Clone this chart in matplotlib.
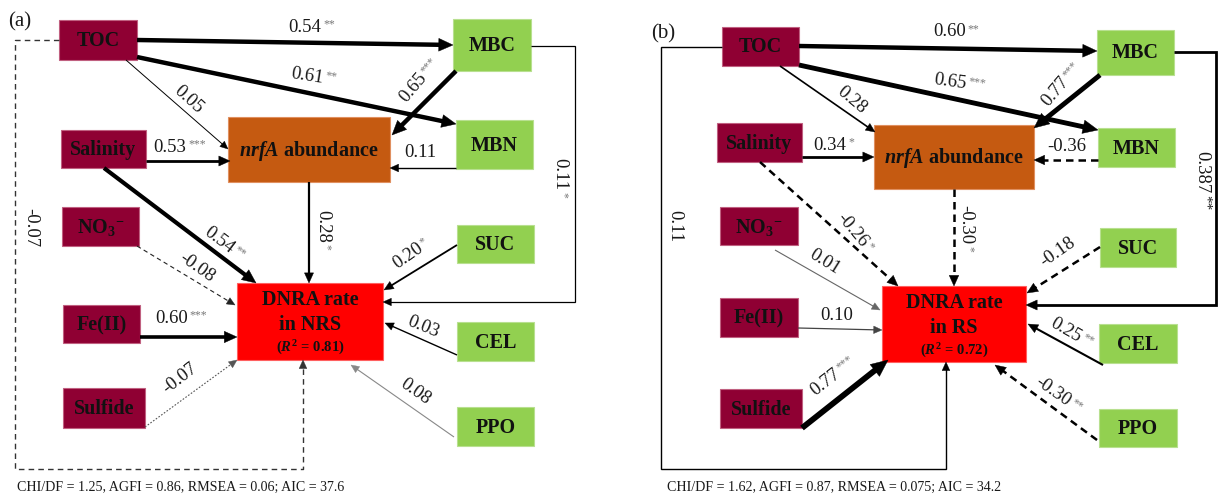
import numpy as np
import matplotlib.pyplot as plt
from matplotlib.patches import Rectangle, Polygon

plt.rcParams['font.family'] = 'Liberation Serif'
plt.rcParams['mathtext.fontset'] = 'custom'
plt.rcParams['mathtext.rm'] = 'Liberation Serif:bold'
plt.rcParams['mathtext.bf'] = 'Liberation Serif:bold'
plt.rcParams['mathtext.it'] = 'Liberation Serif:bold:italic'

# Path coefficients (source, target, coefficient text, significance)
paths_a = [
    ('TOC', 'MBC', '0.54', '**'),
    ('TOC', 'MBN', '0.61', '**'),
    ('TOC', 'nrfA', '0.05', ''),
    ('MBC', 'nrfA', '0.65', '***'),
    ('MBN', 'nrfA', '0.11', ''),
    ('Salinity', 'nrfA', '0.53', '***'),
    ('Salinity', 'DNRA', '0.54', '**'),
    ('NO3', 'DNRA', '-0.08', ''),
    ('Fe', 'DNRA', '0.60', '***'),
    ('Sulfide', 'DNRA', '-0.07', ''),
    ('nrfA', 'DNRA', '0.28', '*'),
    ('SUC', 'DNRA', '0.20', '*'),
    ('CEL', 'DNRA', '0.03', ''),
    ('PPO', 'DNRA', '0.08', ''),
    ('MBC', 'DNRA', '0.11', '*'),
    ('TOC', 'DNRA', '-0.07', ''),
]
paths_b = [
    ('TOC', 'MBC', '0.60', '**'),
    ('TOC', 'MBN', '0.65', '***'),
    ('TOC', 'nrfA', '0.28', ''),
    ('MBC', 'nrfA', '0.77', '***'),
    ('MBN', 'nrfA', '-0.36', ''),
    ('Salinity', 'nrfA', '0.34', '*'),
    ('Salinity', 'DNRA', '-0.26', '*'),
    ('NO3', 'DNRA', '0.01', ''),
    ('Fe', 'DNRA', '0.10', ''),
    ('Sulfide', 'DNRA', '0.77', '***'),
    ('nrfA', 'DNRA', '-0.30', '*'),
    ('SUC', 'DNRA', '-0.18', ''),
    ('CEL', 'DNRA', '0.25', '**'),
    ('PPO', 'DNRA', '-0.30', '**'),
    ('MBC', 'DNRA', '0.387', '**'),
    ('TOC', 'DNRA', '0.11', ''),
]
r2_a, r2_b = '0.81', '0.72'
site_a, site_b = 'NRS', 'RS'
fit_a = 'CHI/DF = 1.25, AGFI = 0.86, RMSEA = 0.06; AIC = 37.6'
fit_b = 'CHI/DF = 1.62, AGFI = 0.87, RMSEA = 0.075; AIC = 34.2'

node_text = {'TOC': 'TOC', 'Salinity': 'Salinity', 'NO3': r'NO$_3$$^{-}$', 'Fe': 'Fe(II)',
             'Sulfide': 'Sulfide', 'MBC': 'MBC', 'MBN': 'MBN', 'SUC': 'SUC',
             'CEL': 'CEL', 'PPO': 'PPO'}

C_SOIL = '#8f0033'
C_MICRO = '#92d050'
C_GENE = '#c55a11'
C_RATE = '#ff0000'

# box layout in pixels: x0, y0, x1, y1
box_a = {
    'TOC': (59, 20, 137, 60), 'Salinity': (61, 130, 146, 168), 'NO3': (62, 207, 139, 246),
    'Fe': (63, 305, 140, 343), 'Sulfide': (63, 388, 145, 428), 'nrfA': (228, 117, 390, 182),
    'MBC': (453, 19, 531, 71), 'MBN': (456, 120, 533, 169), 'SUC': (457, 225, 534, 263),
    'CEL': (457, 322, 534, 361), 'PPO': (457, 407, 534, 446), 'DNRA': (237, 283, 383, 360),
}
box_b = {
    'TOC': (722, 27, 799, 66), 'Salinity': (717, 123, 802, 162), 'NO3': (720, 207, 798, 245),
    'Fe': (720, 298, 798, 337), 'Sulfide': (720, 389, 802, 428), 'nrfA': (874, 125, 1034, 189),
    'MBC': (1097, 30, 1174, 75), 'MBN': (1098, 128, 1175, 167), 'SUC': (1100, 228, 1176, 267),
    'CEL': (1099, 324, 1177, 363), 'PPO': (1099, 409, 1177, 447), 'DNRA': (882, 286, 1026, 362),
}

# arrow geometry per path: start, end, width, dash, colour, label centre, label rotation
DASH_A = (0, (4, 3))
DASH_B = (0, (3, 2))
geom_a = [
    ((137, 40), (453, 45), 3.2, '-', 'k', (305, 27), 0),
    ((137, 57), (456, 124), 3.2, '-', 'k', (307, 76), -9),
    ((126, 60), (228, 149), 0.7, '-', 'k', (188, 100), -42),
    ((456, 71), (392, 135), 3.2, '-', 'k', (413, 88), 50),
    ((456, 168), (390, 168), 1.0, '-', 'k', (420, 152), 0),
    ((146, 161), (230, 161), 2.0, '-', 'k', (170, 147), 0),
    ((104, 168), (256, 283), 3.0, '-', 'k', (219, 240), -37),
    ((137, 246), (235, 305), 0.8, DASH_A, '#222', (197, 268), -35),
    ((140, 337), (237, 337), 2.6, '-', 'k', (172, 318), 0),
    ((145, 427), (237, 360), 0.8, (0, (1.5, 1.5)), '#555', (180, 378), 38),
    ((309, 182), (309, 283), 1.6, '-', 'k', (323, 226), -90),
    ((457, 245), (384, 290), 1.3, '-', 'k', (408, 256), 35),
    ((457, 355), (385, 323), 1.0, '-', 'k', (423, 327), -22),
    ((454, 437), (351, 365), 0.8, '-', '#888', (415, 392), -35),
    ([(531, 46), (575, 46), (575, 302), (383, 302)], None, 0.9, '-', 'k', (560, 174), -90),
    ([(59, 40), (15, 40), (15, 469), (303, 469), (303, 360)], None, 1.0, DASH_A, '#333', (31, 228), -90),
]
geom_b = [
    ((799, 46), (1097, 51), 3.2, '-', 'k', (950, 32), 0),
    ((799, 65), (1098, 130), 3.5, '-', 'k', (950, 82), -8),
    ((780, 66), (875, 132), 1.2, '-', 'k', (852, 100), -40),
    ((1100, 75), (1034, 128), 3.5, '-', 'k', (1055, 92), 50),
    ((1098, 160), (1034, 160), 1.8, DASH_B, 'k', (1067, 146), 0),
    ((802, 157), (874, 157), 2.0, '-', 'k', (830, 145), 0),
    ((760, 162), (898, 286), 1.8, DASH_B, 'k', (852, 230), -50),
    ((775, 250), (880, 310), 0.8, '-', '#666', (825, 262), -32),
    ((798, 328), (882, 330), 0.9, '-', '#444', (837, 315), 0),
    ((802, 428), (888, 360), 4.2, '-', 'k', (825, 382), 38),
    ((954, 189), (954, 286), 1.8, DASH_B, 'k', (966, 225), -90),
    ((1100, 247), (1027, 293), 1.8, DASH_B, 'k', (1058, 252), 35),
    ((1103, 365), (1028, 324), 1.5, '-', 'k', (1066, 330), -30),
    ((1097, 440), (995, 365), 1.8, DASH_B, 'k', (1053, 392), -35),
    ([(1174, 52), (1216, 52), (1216, 305), (1026, 305)], None, 2.0, '-', 'k', (1202, 172), -90),
    ([(722, 47), (661, 47), (661, 469), (946, 469), (946, 362)], None, 1.0, '-', 'k', (675, 226), -90),
]

fig = plt.figure(figsize=(12.19, 4.94), dpi=100)
ax = fig.add_axes([0, 0, 1, 1])
ax.set_xlim(0, 1219)
ax.set_ylim(494, 0)
ax.axis('off')
renderer = fig.canvas.get_renderer()
PX = 100 / 72  # pixels per point


def text_width(s, size):
    t = ax.text(0, 0, s, fontsize=size)
    w = t.get_window_extent(renderer).width
    t.remove()
    return w


def arrow(pts, lw, ls, color):
    pts = np.array(pts, float)
    p1, p0 = pts[-1], pts[-2]
    u = (p1 - p0) / np.hypot(*(p1 - p0))
    hl = 6 + 2.6 * lw * PX / 1.4
    base = p1 - u * hl * 0.85
    line = np.vstack([pts[:-1], base])
    ax.plot(line[:, 0], line[:, 1], lw=lw, ls=ls, color=color, solid_capstyle='butt',
            dash_capstyle='butt', solid_joinstyle='miter')
    n = np.array([-u[1], u[0]])
    w = hl * 0.45
    ax.add_patch(Polygon([p1, p1 - u * hl + n * w, p1 - u * hl - n * w], closed=True,
                         facecolor=color, edgecolor=color, lw=0.3))


def coef_label(x, y, num, stars, rot, star_color='#777', star_size=8.5):
    ax.text(x, y, num, fontsize=13.5, rotation=rot, rotation_mode='anchor',
            ha='center', va='center', color='#1a1a1a')
    if stars:
        w = text_width(num, 13.5)
        th = np.deg2rad(rot)
        ux, uy = np.cos(th), -np.sin(th)
        vx, vy = -np.sin(th), -np.cos(th)
        sx = x + ux * (w / 2 + 1.5) + vx * 3
        sy = y + uy * (w / 2 + 1.5) + vy * 3
        ax.text(sx, sy, stars, fontsize=star_size, rotation=rot, rotation_mode='anchor',
                ha='left', va='center', color=star_color)


def draw_panel(boxes, paths, geom, r2, site, fit, tag, tag_xy, fit_x, big_star_last=False):
    colours = {'TOC': C_SOIL, 'Salinity': C_SOIL, 'NO3': C_SOIL, 'Fe': C_SOIL,
               'Sulfide': C_SOIL, 'MBC': C_MICRO, 'MBN': C_MICRO, 'SUC': C_MICRO,
               'CEL': C_MICRO, 'PPO': C_MICRO, 'nrfA': C_GENE, 'DNRA': C_RATE}
    edges = {C_SOIL: '#c06080', C_MICRO: '#b8e090', C_GENE: '#e09060', C_RATE: '#ff6060'}
    for name, (x0, y0, x1, y1) in boxes.items():
        fc = colours[name]
        ax.add_patch(Rectangle((x0, y0), x1 - x0, y1 - y0, facecolor=fc,
                               edgecolor=edges[fc], lw=0.8, zorder=1))
        cx, cy = (x0 + x1) / 2, (y0 + y1) / 2
        if name in node_text:
            ax.text(cx, cy + 1, node_text[name], fontsize=14.5, fontweight='bold',
                    ha='center', va='center', color='#111', zorder=3)
        elif name == 'nrfA':
            ax.text(cx, cy + 1, r'$\mathit{nrfA}$ abundance', fontsize=14.5, fontweight='bold',
                    ha='center', va='center', color='#111', zorder=3)
        else:
            ax.text(cx, y0 + 17, 'DNRA rate', fontsize=14.5, fontweight='bold',
                    ha='center', va='center', color='#111', zorder=3)
            ax.text(cx, y0 + 42, 'in ' + site, fontsize=14.5, fontweight='bold',
                    ha='center', va='center', color='#111', zorder=3)
            ax.text(cx, y0 + 65, r'($\mathit{R}^2$ = ' + r2 + ')', fontsize=10.5,
                    fontweight='bold', ha='center', va='center', color='#111', zorder=3)

    for (src, dst, num, stars), g in zip(paths, geom):
        p0, p1, lw, ls, color, (lx, ly), rot = g
        pts = p0 if p1 is None else [p0, p1]
        arrow(pts, lw, ls, color)
        if big_star_last and src == 'MBC' and dst == 'DNRA':
            coef_label(lx, ly, num, stars, rot, star_color='#1a1a1a', star_size=11)
        else:
            coef_label(lx, ly, num, stars, rot)

    ax.text(*tag_xy, tag, fontsize=15, ha='center', va='center', color='#1a1a1a')
    ax.text(fit_x, 487, fit, fontsize=10.1, ha='left', va='center', color='#1a1a1a')


draw_panel(box_a, paths_a, geom_a, r2_a, site_a, fit_a, '(a)', (20, 22), 17)
draw_panel(box_b, paths_b, geom_b, r2_b, site_b, fit_b, '(b)', (663, 34), 667, big_star_last=True)

fig.savefig('out.png', dpi=100)
